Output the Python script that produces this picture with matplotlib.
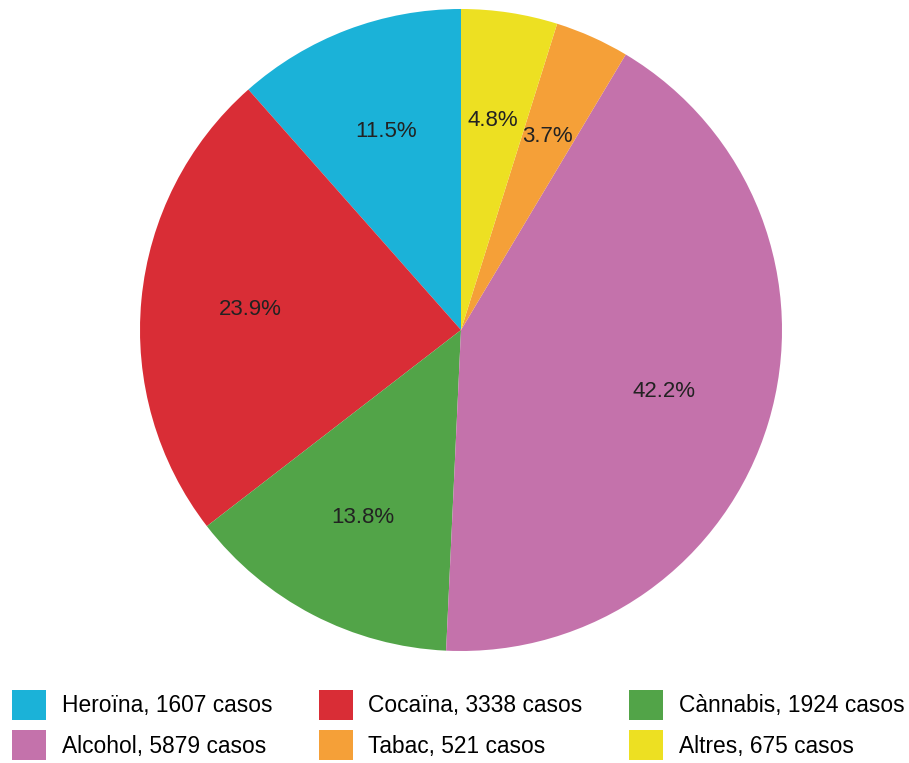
import matplotlib
matplotlib.use("Agg")
import matplotlib.pyplot as plt
from matplotlib.patches import Patch

plt.rcParams["font.family"] = ["Liberation Sans", "DejaVu Sans"]

# Data
substances = ["Heroïna", "Cocaïna", "Cànnabis", "Alcohol", "Tabac", "Altres"]
cases = [1607, 3338, 1924, 5879, 521, 675]
colors = ["#1bb2d8", "#d92d36", "#52a448", "#c472ab", "#f5a038", "#ede022"]

W, H = 909, 763
fig = plt.figure(figsize=(W / 100, H / 100), dpi=100)

# pie centre and radius in pixels
cx, cy, r = 461, 330, 321
ax = fig.add_axes([(cx - r) / W, (H - cy - r) / H, 2 * r / W, 2 * r / H])
ax.pie(
    cases,
    colors=colors,
    startangle=90,
    counterclock=True,
    autopct="%.1f%%",
    pctdistance=0.66,
    textprops={"fontsize": 16, "color": "#222222"},
    wedgeprops={"linewidth": 0},
)
ax.set_xlim(-1, 1)
ax.set_ylim(-1, 1)
ax.set_aspect("equal")
ax.axis("off")

handles = [Patch(facecolor=c, edgecolor="none") for c in colors]
labels = [f"{s}, {n} casos" for s, n in zip(substances, cases)]
# legend fills column by column, reorder so it reads row by row
order = [0, 3, 1, 4, 2, 5]
fs = 16.4
px = fs * 100 / 72
fig.legend(
    [handles[i] for i in order],
    [labels[i] for i in order],
    loc="upper left",
    bbox_to_anchor=(12 / W, 1 - 690 / H),
    ncol=3,
    frameon=False,
    fontsize=fs,
    handlelength=34 / px,
    handleheight=30 / 0.8 / px,
    handletextpad=16 / px,
    columnspacing=46 / px,
    labelspacing=0.45,
    borderaxespad=0,
    borderpad=0,
)

fig.savefig("out.png", dpi=100)
